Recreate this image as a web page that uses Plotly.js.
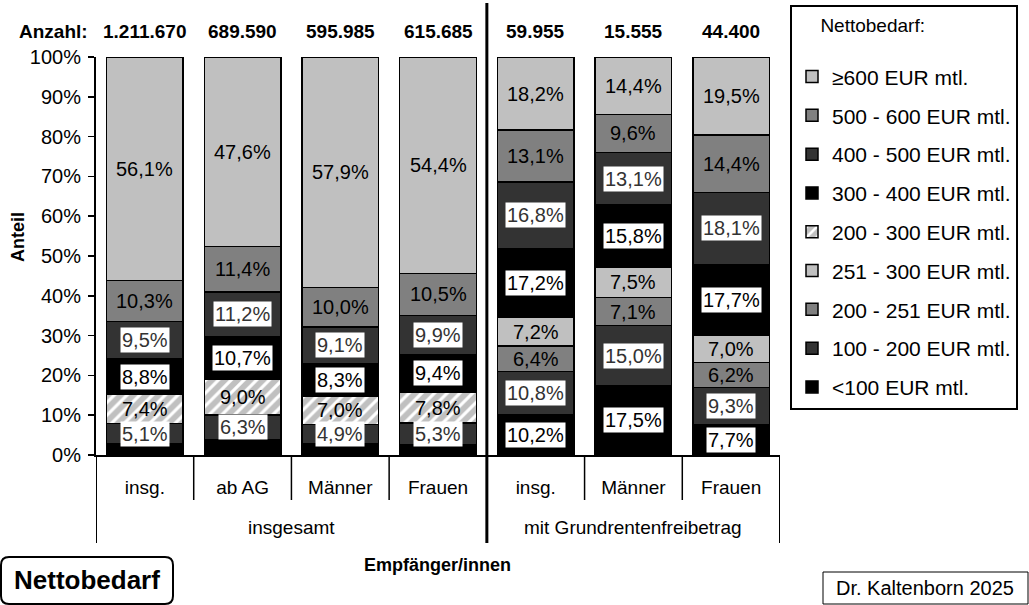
<!DOCTYPE html>
<html>
<head>
<meta charset="utf-8">
<script src="https://cdn.plot.ly/plotly-3.0.1.min.js"></script>
<style>
  body { margin: 0; background: #fff; }
  #chart { width: 1029px; height: 605px; }
</style>
</head>
<body>
<div id="chart"></div>
<script>
// Kategorien (x-Achse) und Gruppen
let categories = ['insg.', 'ab AG', 'Männer', 'Frauen', 'insg.', 'Männer', 'Frauen']
let groups = ['insgesamt', 'mit Grundrentenfreibetrag']
let counts = ['1.211.670', '689.590', '595.985', '615.685', '59.955', '15.555', '44.400']

// Anteile in % (von unten nach oben gestapelt)
let lt100 = [2.8, 3.8, 2.8, 2.7, 10.2, 17.5, 7.7]
let s100_200 = [5.1, 6.3, 4.9, 5.3, 10.8, 15.0, 9.3]
let s200_251 = [null, null, null, null, 6.4, 7.1, 6.2]
let s251_300 = [null, null, null, null, 7.2, 7.5, 7.0]
let s200_300 = [7.4, 9.0, 7.0, 7.8, null, null, null]
let s300_400 = [8.8, 10.7, 8.3, 9.4, 17.2, 15.8, 17.7]
let s400_500 = [9.5, 11.2, 9.1, 9.9, 16.8, 13.1, 18.1]
let s500_600 = [10.3, 11.4, 10.0, 10.5, 13.1, 9.6, 14.4]
let ge600 = [56.1, 47.6, 57.9, 54.4, 18.2, 14.4, 19.5]

// in den ersten vier Säulen wird <100 nicht beschriftet
let lt100Shown = [false, false, false, false, true, true, true]

const FONT = 'Liberation Sans, Arial, sans-serif'
const light = '#c0c0c0', mid = '#808080', dark = '#333333', black = '#000000'

let series = [
    {name: '<100 EUR mtl.', y: lt100, color: black, box: true, shown: lt100Shown},
    {name: '100 - 200 EUR mtl.', y: s100_200, color: dark, box: true},
    {name: '200 - 251 EUR mtl.', y: s200_251, color: mid},
    {name: '251 - 300 EUR mtl.', y: s251_300, color: light},
    {name: '200 - 300 EUR mtl.', y: s200_300, color: light, hatch: true},
    {name: '300 - 400 EUR mtl.', y: s300_400, color: black, box: true},
    {name: '400 - 500 EUR mtl.', y: s400_500, color: dark, box: true},
    {name: '500 - 600 EUR mtl.', y: s500_600, color: mid},
    {name: '≥600 EUR mtl.', y: ge600, color: light}
]

let xs = categories.map((c, i) => i)

let data = series.map((s, k) => {
    let marker = {color: s.color, line: {color: '#000', width: 1.5}}
    if (s.hatch) {
        marker.pattern = {shape: '/', fillmode: 'replace', bgcolor: light, fgcolor: '#ffffff', size: 9, solidity: 0.35}
    }
    return {
        type: 'bar',
        name: s.name,
        x: xs,
        y: s.y,
        marker: marker,
        legendgroup: 'g' + k,
        legendrank: 100 - k,
        hoverinfo: 'name+y'
    }
})

// px -> paper Umrechnung für Dekoration
const L = 96, R = 780, T = 57, B = 455
let px = v => (v - L) / (R - L)
let py = v => (B - v) / (B - T)

let annotations = []

function note(x, y, xref, yref, text, size, extra) {
    return Object.assign({
        x: x, y: y, xref: xref, yref: yref, text: text, showarrow: false,
        xanchor: 'center', yanchor: 'middle',
        font: {family: FONT, size: size, color: '#000'}
    }, extra || {})
}

// Datenbeschriftungen in Segmentmitte
let base = xs.map(() => 0)
series.forEach(s => {
    s.y.forEach((v, i) => {
        if (v == null) return
        let m = base[i] + v / 2
        base[i] += v
        if (s.shown && !s.shown[i]) return
        annotations.push(note(i, m, 'x', 'y', v.toFixed(1).replace('.', ',') + '%', 20, {
            font: {family: FONT, size: 20, color: s.color === dark ? dark : '#000'},
            bgcolor: s.box ? '#ffffff' : 'rgba(0,0,0,0)',
            borderpad: 1
        }))
    })
})

// Anzahl oben
annotations.push(note(px(90), py(31), 'paper', 'paper', '<b>Anzahl:</b>', 19, {xanchor: 'right'}))
counts.forEach((c, i) => {
    annotations.push(note(i, py(31), 'x', 'paper', '<b>' + c + '</b>', 19))
})

// Gruppenbeschriftung
annotations.push(note(1.5, py(527), 'x', 'paper', groups[0], 19))
annotations.push(note(5, py(527), 'x', 'paper', groups[1], 19))

// Achsentitel
annotations.push(note(px(437), py(565), 'paper', 'paper', '<b>Empfänger/innen</b>', 18))
annotations.push(note(px(18), py(237), 'paper', 'paper', '<b>Anteil</b>', 18, {textangle: -90}))

// Kästen unten
annotations.push(note(px(87), py(580), 'paper', 'paper', '<b>Nettobedarf</b>', 26))
annotations.push(note(px(925), py(588), 'paper', 'paper', 'Dr. Kaltenborn 2025', 20))

function vline(x, y0, y1, w) {
    return {type: 'line', xref: 'x', yref: 'paper', x0: x, x1: x, y0: py(y0), y1: py(y1),
        line: {color: '#000', width: w}}
}

let shapes = [
    vline(-0.5, 455, 543, 2),
    vline(3.5, 3, 543, 3),
    vline(6.5, 455, 543, 2)
]
;[0.5, 1.5, 2.5, 4.5, 5.5].forEach(x => shapes.push(vline(x, 455, 500, 1.5)))

// abgerundeter Rahmen "Nettobedarf"
let r = 8, x0 = 1, x1 = 173, y0 = 557, y1 = 604
shapes.push({
    type: 'path', xref: 'paper', yref: 'paper',
    path: 'M ' + px(x0 + r) + ' ' + py(y0) +
        ' L ' + px(x1 - r) + ' ' + py(y0) +
        ' Q ' + px(x1) + ' ' + py(y0) + ' ' + px(x1) + ' ' + py(y0 + r) +
        ' L ' + px(x1) + ' ' + py(y1 - r) +
        ' Q ' + px(x1) + ' ' + py(y1) + ' ' + px(x1 - r) + ' ' + py(y1) +
        ' L ' + px(x0 + r) + ' ' + py(y1) +
        ' Q ' + px(x0) + ' ' + py(y1) + ' ' + px(x0) + ' ' + py(y1 - r) +
        ' L ' + px(x0) + ' ' + py(y0 + r) +
        ' Q ' + px(x0) + ' ' + py(y0) + ' ' + px(x0 + r) + ' ' + py(y0) + ' Z',
    line: {color: '#000', width: 2}
})
shapes.push({type: 'rect', xref: 'paper', yref: 'paper', x0: px(823), x1: px(1028), y0: py(572), y1: py(604),
    line: {color: '#000', width: 1}})

let layout = {
    width: 1029,
    height: 605,
    margin: {l: L, r: 1029 - R, t: T, b: 605 - B, autoexpand: false},
    paper_bgcolor: '#fff',
    plot_bgcolor: '#fff',
    barmode: 'stack',
    bargap: 0.217,
    font: {family: FONT, size: 19, color: '#000'},
    xaxis: {
        range: [-0.5, 6.5],
        tickvals: xs,
        ticktext: categories,
        showline: true, linecolor: '#000', linewidth: 2,
        ticks: '', showgrid: false, zeroline: false,
        ticklabelstandoff: 14,
        tickfont: {family: FONT, size: 19, color: '#000'}
    },
    yaxis: {
        range: [0, 100],
        dtick: 10,
        ticksuffix: '%',
        showline: true, linecolor: '#000', linewidth: 2,
        ticks: 'outside', ticklen: 6, tickwidth: 1.5, tickcolor: '#000',
        showgrid: false, zeroline: false,
        ticklabelstandoff: 3,
        tickfont: {family: FONT, size: 20, color: '#000'}
    },
    legend: {
        x: px(790), y: py(5), xanchor: 'left', yanchor: 'top',
        traceorder: 'grouped',
        tracegroupgap: 8.5,
        maxheight: 600,
        bordercolor: '#000', borderwidth: 2,
        font: {family: FONT, size: 21, color: '#000'},
        title: {text: '\u00a0\u00a0\u00a0\u00a0\u00a0Nettobedarf:<br>\u00a0', font: {family: FONT, size: 19, color: '#000'}}
    },
    annotations: annotations,
    shapes: shapes
}

Plotly.newPlot('chart', data, layout, {displayModeBar: false, staticPlot: true})
</script>
</body>
</html>
